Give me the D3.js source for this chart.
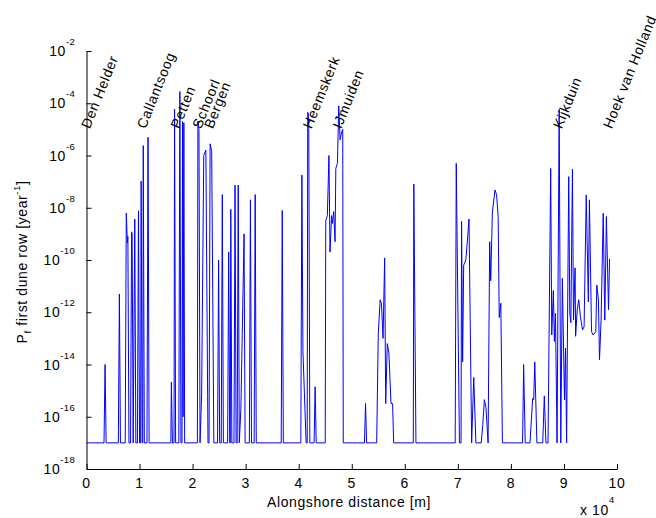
<!DOCTYPE html>
<html>
<head>
<meta charset="utf-8">
<script src="https://cdn.jsdelivr.net/npm/d3@7"></script>
<style>
  html, body { margin: 0; padding: 0; background: #fff; }
  svg { display: block; }
  text { font-family: "Liberation Sans", Arial, Helvetica, sans-serif; fill: #000; }
</style>
</head>
<body>
<svg id="chart" width="656" height="518"></svg>
<script>
// ---- Data (alongshore distance in m, failure probability per year) ----
const alongshore = [
  0, 3300, 3500, 3700, 6000, 6200, 6400, 7300, 7500, 7700, 7800, 8000, 8300, 8500, 8600, 8800,
  9100, 9300, 9600, 9800, 10000, 10200, 10300, 10500, 10600, 10700, 10900, 11400, 11600, 11800,
  15900, 16000, 16200, 16500, 16600, 16800, 17400, 17600, 17800, 18000, 18100, 18200, 18350, 18500,
  20900, 21000, 21200, 21400, 21700, 22100, 22500, 22900, 23100, 23300, 23600, 24000,
  24700, 24900, 25100, 25400, 25600, 25800, 26600, 26800, 27000, 27100, 27200, 27400,
  27800, 28000, 28200, 28400, 28600, 28800, 29100, 29700, 29900,
  30700, 30900, 31100, 31600, 31800, 32000, 36700, 36900, 37100,
  40400, 40600, 40800, 41400, 41600, 41700, 41800, 41900, 42100, 42900, 43100, 43300,
  45000, 45100, 45400, 45700, 45900, 46200, 46350, 46600, 46850, 47000, 47300, 47550, 47800, 48100, 48300, 48400,
  52400, 52600, 52800, 54700, 55000, 55350, 55600, 55900, 56200, 56400, 56700, 57000, 57400, 57700, 57900,
  61600, 61700, 62100,
  69500, 69700, 70300, 70600, 70700, 70900, 71100, 71500, 71900, 72100, 72600, 73000, 73400,
  74400, 74700, 75000, 75300, 75700, 76000, 76200, 76500, 77000, 77300, 77600, 77800, 78100, 78400,
  82200, 82400, 82700, 83600, 84100, 84300, 84500, 84900, 86000, 86300, 86600,
  87000, 87500, 87700, 88000, 88200, 88400, 88700, 89100, 89400, 89700, 90100, 90300, 90500,
  90700, 90900, 91100, 91300, 91600, 91800, 92100, 92200, 92500, 92800, 93100, 93500, 93800,
  94200, 94600, 94800, 95200, 95500, 96000, 96200, 96500, 96700, 97000, 97400, 97700, 98000, 98400, 98600
];
const pf = [
  1e-17, 1e-17, 1e-14, 1e-17, 1e-17, 5e-12, 1e-17, 1e-17, 6.3e-9, 4.5e-10, 7.9e-10, 1e-17, 1e-17, 1.2e-9, 1e-9, 1e-17,
  3.7e-9, 1e-17, 1e-17, 7.6e-9, 1e-17, 1e-17, 1.05e-7, 1e-17, 1e-17, 2.4e-6, 1e-17, 1e-17, 5e-6, 1e-17,
  1e-17, 2.1e-15, 1e-17, 1e-17, 6e-5, 1e-17, 1e-17, 2.8e-4, 1e-17, 1e-17, 2e-5, 1e-16, 1.8e-5, 1e-17,
  1e-17, 2.1e-5, 1e-5, 1e-17, 6.3e-16, 1e-6, 1.6e-6, 1e-17, 1e-17, 2.8e-6, 1.45e-6, 1e-17,
  1e-17, 1e-10, 1e-17, 1e-17, 3.2e-8, 1e-17, 1e-17, 2e-10, 1e-17, 1e-17, 8.7e-9, 1e-17,
  1e-17, 7.4e-8, 1e-17, 1e-17, 7.4e-8, 1e-17, 2e-16, 1e-9, 1e-17,
  1e-17, 2e-8, 1e-17, 1e-17, 3.2e-8, 1e-17, 1e-17, 7.9e-9, 1e-17,
  1e-17, 1.8e-7, 3.2e-14, 1e-17, 1e-17, 4.5e-5, 4e-5, 1.1e-5, 1e-17, 1e-17, 1.4e-15, 1e-17,
  1e-17, 3.2e-9, 5e-9, 1e-6, 2e-10, 5e-9, 2.5e-9, 7.1e-9, 5e-10, 3.2e-7, 5e-7, 7.9e-5, 4e-6, 7.9e-6, 1e-5, 1e-17,
  1e-17, 3.2e-16, 1e-17, 1e-17, 1.4e-13, 3e-12, 2.2e-12, 1e-13, 1.2e-10, 3.2e-16, 6.3e-14, 2.8e-14, 3.2e-16, 3.2e-16, 1e-17,
  1e-17, 8.1e-8, 1e-17,
  1e-17, 5e-7, 1e-17, 1e-17, 3e-9, 1.26e-14, 6.3e-11, 1e-10, 1e-9, 3.7e-9, 1e-17, 3.2e-15, 1e-17,
  1e-17, 5e-17, 4.5e-16, 2.2e-16, 1e-17, 5e-10, 1.6e-11, 6.3e-9, 4.8e-8, 3.2e-8, 4.6e-9, 6.3e-13, 2.2e-12, 1e-17,
  1e-17, 1e-14, 1e-17, 1e-17, 5e-16, 4.5e-16, 1.26e-14, 1e-17, 1e-17, 6.3e-16, 1e-17,
  1e-17, 3.2e-7, 1.35e-13, 6.8e-12, 7.6e-14, 9.1e-13, 1e-17, 5.9e-5, 1e-17, 2e-11, 4.4e-16, 4.3e-14, 1e-17,
  1.6e-12, 1.55e-7, 9.3e-13, 4e-13, 3e-7, 5e-13, 5e-11, 1.2e-13, 1.26e-12, 3e-12, 6.8e-13, 2.1e-13, 2.8e-13,
  3.1e-8, 2.5e-12, 2e-8, 1.8e-13, 1.35e-13, 1.8e-13, 1.1e-11, 3e-12, 1.5e-14, 5e-13, 6.2e-9, 5e-13, 4.6e-9, 1.26e-12, 1.1e-10
];

const towns  = ["Den Helder", "Callantsoog", "Petten", "Schoorl", "Bergen", "Heemskerk", "IJmuiden", "Kijkduin", "Hoek van Holland"];
const townX  = [600, 11100, 17500, 21600, 23800, 42400, 48000, 89600, 99000];
const townLevel = 1e-5;

const xTickValues = [0, 10000, 20000, 30000, 40000, 50000, 60000, 70000, 80000, 90000, 100000];
const xTickLabels = ["0", "1", "2", "3", "4", "5", "6", "7", "8", "9", "10"];
const yTickValues = [1e-18, 1e-16, 1e-14, 1e-12, 1e-10, 1e-8, 1e-6, 1e-4, 1e-2];
const yTickExponents = ["-18", "-16", "-14", "-12", "-10", "-8", "-6", "-4", "-2"];

// ---- Layout ----
const svg = d3.select("#chart");
const plotLeft = 86.5, plotRight = 617, plotTop = 51, plotBottom = 469;

const x = d3.scaleLinear().domain([0, 100000]).range([plotLeft, plotRight]);
const y = d3.scaleLog().domain([1e-18, 1e-2]).range([plotBottom, plotTop]);

// data line
const line = d3.line().x((d, i) => x(alongshore[i])).y(d => y(d));
svg.append("path")
  .datum(pf)
  .attr("fill", "none")
  .attr("stroke", "#0000ff")
  .attr("stroke-width", 1)
  .attr("stroke-linejoin", "miter")
  .attr("d", line);

// x axis
const xAxis = svg.append("g").attr("transform", `translate(0,${plotBottom})`)
  .call(d3.axisBottom(x).tickValues(xTickValues).tickSizeInner(-5).tickSizeOuter(0).tickFormat(""));
xAxis.select(".domain").attr("stroke", "#000").attr("stroke-width", 1);
xAxis.selectAll(".tick line").attr("stroke", "#000");
svg.append("g").selectAll("text").data(xTickValues).join("text")
  .attr("x", d => x(d)).attr("y", 488)
  .attr("text-anchor", "middle")
  .style("font-size", "14px").style("letter-spacing", "0.6px")
  .text((d, i) => xTickLabels[i]);

// y axis
const yAxis = svg.append("g").attr("transform", `translate(${plotLeft},0)`)
  .call(d3.axisLeft(y).tickValues(yTickValues).tickSizeInner(-5).tickSizeOuter(0).tickFormat(""));
yAxis.select(".domain").attr("stroke", "#000").attr("stroke-width", 1);
yAxis.selectAll(".tick line").attr("stroke", "#000");
const yLab = svg.append("g").selectAll("text").data(yTickValues).join("text")
  .attr("x", 75).attr("y", d => y(d) + 5)
  .attr("text-anchor", "end")
  .style("font-size", "14px").style("letter-spacing", "0.6px");
yLab.append("tspan").text("10");
yLab.append("tspan").attr("dy", -11).style("font-size", "9.5px").style("letter-spacing", "0.3px")
  .text((d, i) => yTickExponents[i]);

// exponent note
const note = svg.append("text").attr("x", 580).attr("y", 515)
  .style("font-size", "14px").style("letter-spacing", "0.6px");
note.append("tspan").text("x 10");
note.append("tspan").attr("dy", -12).style("font-size", "9.5px").text("4");

// axis labels
svg.append("text").attr("x", 349).attr("y", 507)
  .attr("text-anchor", "middle")
  .style("font-size", "14px").style("letter-spacing", "0.6px")
  .text("Alongshore distance [m]");

const yl = svg.append("text")
  .attr("transform", "translate(27,262) rotate(-90)")
  .attr("text-anchor", "middle")
  .style("font-size", "14px").style("letter-spacing", "0.6px");
yl.append("tspan").text("P");
yl.append("tspan").attr("dy", 4).style("font-size", "9.5px").text("f");
yl.append("tspan").attr("dy", -4).text(" first dune row [year");
yl.append("tspan").attr("dy", -7).style("font-size", "9.5px").text("-1");
yl.append("tspan").attr("dy", 7).text("]");

// town names
svg.append("g").selectAll("text").data(towns).join("text")
  .attr("transform", (d, i) => `translate(${x(townX[i])},${y(townLevel)}) rotate(-68)`)
  .style("font-size", "14px").style("letter-spacing", "0.6px")
  .text(d => d);
</script>
</body>
</html>
